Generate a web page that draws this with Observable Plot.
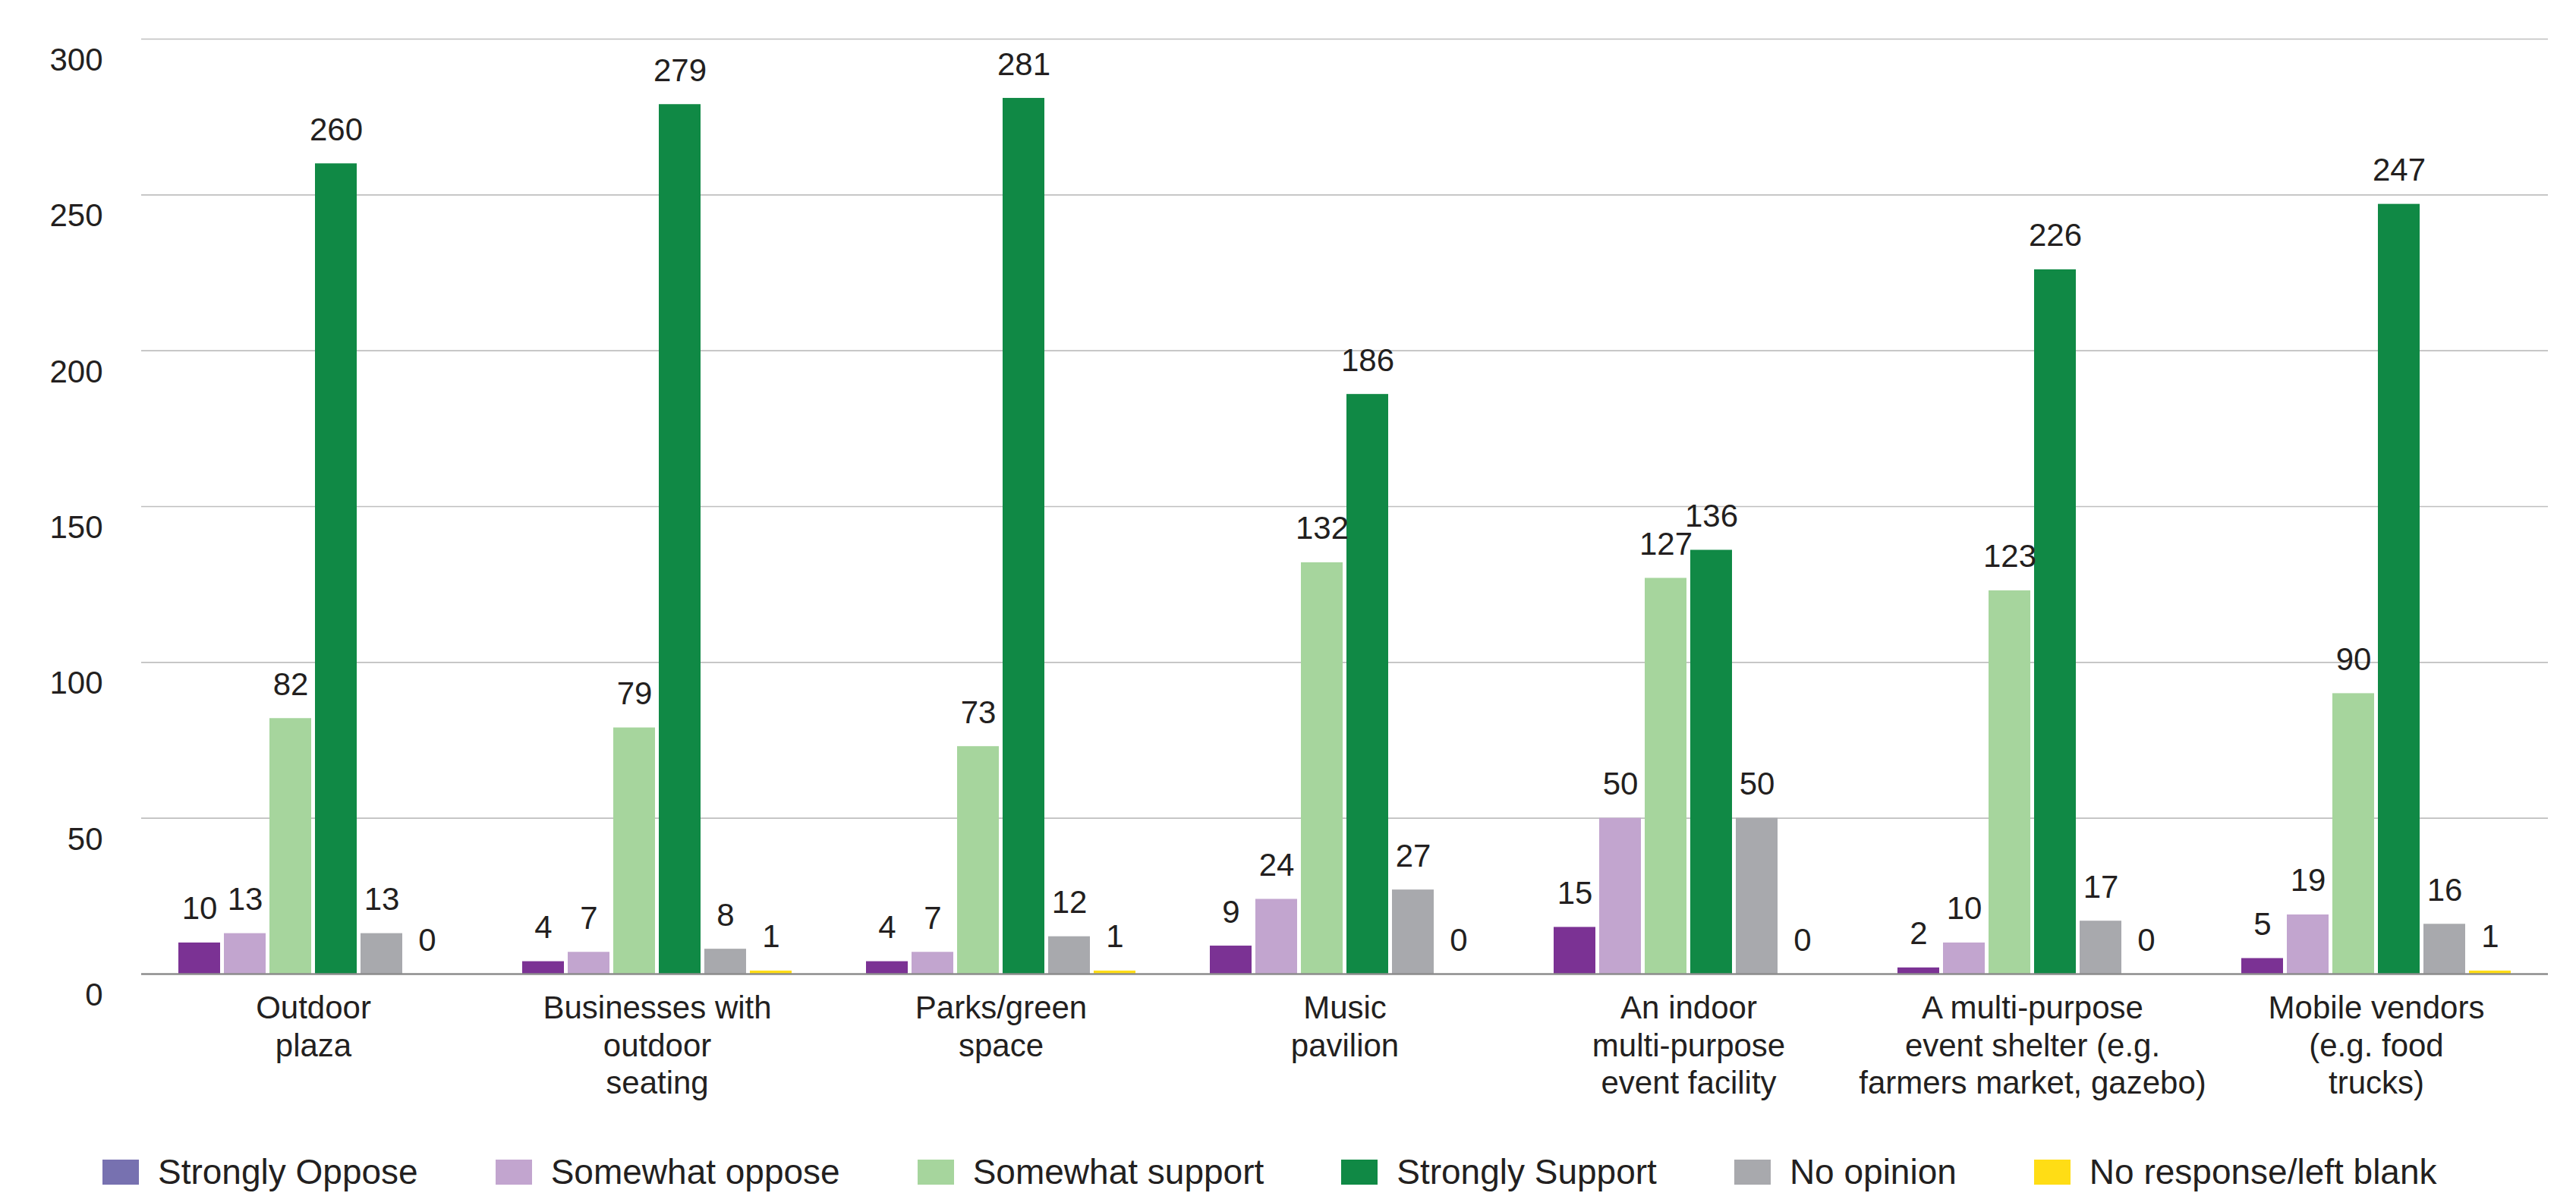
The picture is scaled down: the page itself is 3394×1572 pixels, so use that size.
<!DOCTYPE html>
<html>
<head>
<meta charset="utf-8">
<script src="https://cdn.jsdelivr.net/npm/d3@7"></script>
<script src="https://cdn.jsdelivr.net/npm/@observablehq/plot@0.6"></script>
<style>
  html, body { margin: 0; padding: 0; background: #fff; }
  body { width: 3394px; height: 1572px; overflow: hidden; font-family: "Liberation Sans", Arial, sans-serif; color: #231f20; }
  #legend { display: flex; align-items: center; margin-top: 36px; padding-left: 135px; height: 50px; }
  .item { display: flex; align-items: center; margin-right: 102px; font-size: 46px; white-space: nowrap; }
  .sw { width: 48px; height: 33px; margin-right: 25px; flex: none; }
</style>
</head>
<body>
<div id="chart"></div>
<div id="legend"></div>
<script>
const categories = [
  "Outdoor\nplaza",
  "Businesses with\noutdoor\nseating",
  "Parks/green\nspace",
  "Music\npavilion",
  "An indoor\nmulti-purpose\nevent facility",
  "A multi-purpose\nevent shelter (e.g.\nfarmers market, gazebo)",
  "Mobile vendors\n(e.g. food\ntrucks)"
];
const series = ["Strongly Oppose", "Somewhat oppose", "Somewhat support", "Strongly Support", "No opinion", "No response/left blank"];
const stronglyOppose   = [10, 4, 4, 9, 15, 2, 5];
const somewhatOppose   = [13, 7, 7, 24, 50, 10, 19];
const somewhatSupport  = [82, 79, 73, 132, 127, 123, 90];
const stronglySupport  = [260, 279, 281, 186, 136, 226, 247];
const noOpinion        = [13, 8, 12, 27, 50, 17, 16];
const noResponse       = [0, 1, 1, 0, 0, 0, 1];
const yTicks = [0, 50, 100, 150, 200, 250, 300];

const barColors = ["#7b3294", "#c2a5cf", "#a6d59d", "#108945", "#a8a9ad", "#ffdd15"];
const legendColors = ["#7771b0", "#c2a5cf", "#a6d59d", "#108945", "#a8a9ad", "#ffdd15"];

const seriesValues = [stronglyOppose, somewhatOppose, somewhatSupport, stronglySupport, noOpinion, noResponse];
const rows = [];
categories.forEach((c, i) => {
  series.forEach((s, j) => rows.push({category: c, series: s, value: seriesValues[j][i]}));
});

const chart = Plot.plot({
  width: 3394,
  height: 1483,
  marginLeft: 183,
  marginRight: 35,
  marginTop: 51,
  marginBottom: 200,
  style: {fontFamily: "'Liberation Sans', Arial, sans-serif", fontSize: "42px", color: "#231f20", background: "#fff"},
  fx: {domain: categories, padding: 0, label: null},
  x: {domain: series, paddingInner: 0.09, paddingOuter: 0.79, axis: null},
  y: {domain: [0, 300], label: null},
  color: {domain: series, range: barColors},
  marks: [
    Plot.gridY(yTicks.filter(d => d > 0), {stroke: "#bfbfbf", strokeOpacity: 1, strokeWidth: 1.6}),
    Plot.barY(rows, {fx: "category", x: "series", y: "value", fill: "series"}),
    Plot.ruleY([0], {stroke: "#8c8c8c", strokeWidth: 2.5}),
    Plot.text(rows, {fx: "category", x: "series", y: "value", text: d => String(d.value), lineAnchor: "bottom", dy: -31, fill: "#231f20"}),
    Plot.axisY(yTicks, {tickSize: 0, tickPadding: 51, dy: 28, label: null, fill: "#231f20"}),
    Plot.axisFx({anchor: "bottom", tickSize: 0, tickPadding: 24, lineAnchor: "top", lineHeight: 1.17, label: null, fill: "#231f20"})
  ]
});
document.getElementById("chart").appendChild(chart);

const legend = d3.select("#legend");
series.forEach((s, j) => {
  const item = legend.append("div").attr("class", "item");
  item.append("div").attr("class", "sw").style("background", legendColors[j]);
  item.append("span").text(s);
});
</script>
</body>
</html>
